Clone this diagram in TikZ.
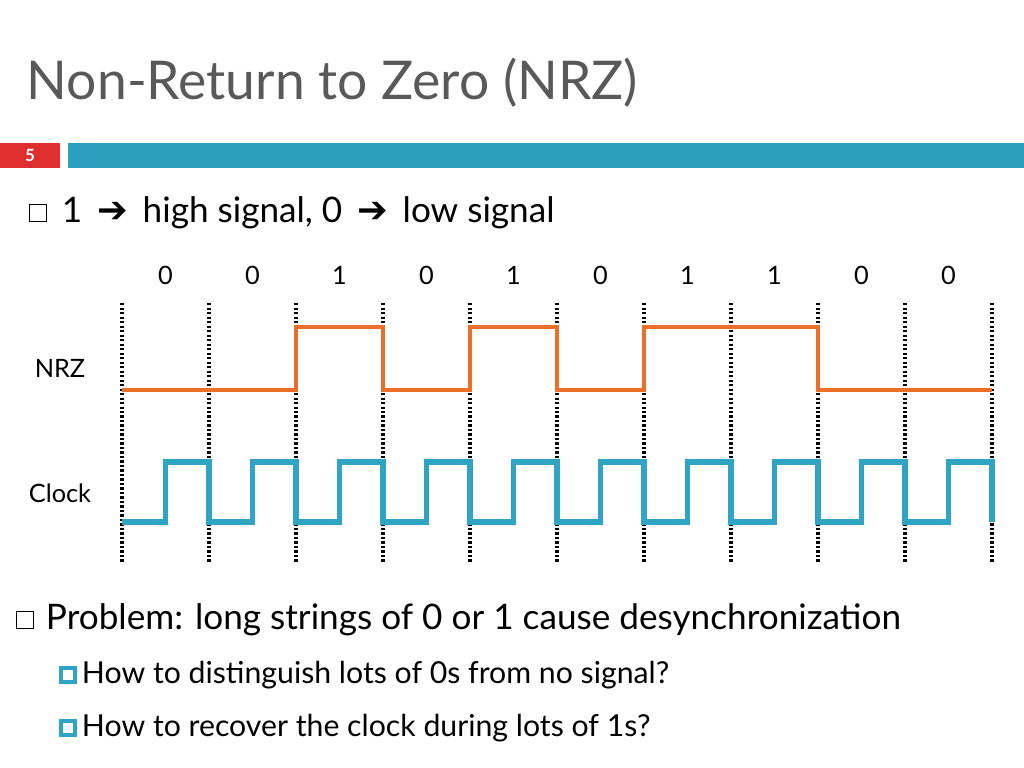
\documentclass[tikz,border=0pt]{standalone}
\usepackage{fontspec}
\setmainfont{Lato}
\newfontfamily\symfont{DejaVu Sans}
\definecolor{nrzorange}{RGB}{237,110,40}
\definecolor{clkblue}{RGB}{48,165,195}
\definecolor{barblue}{RGB}{41,160,190}
\definecolor{numred}{RGB}{222,46,46}
\definecolor{titlegray}{RGB}{89,89,89}
\newcommand{\arr}{{\symfont\bfseries\fontsize{26}{28}\selectfont ➔}}
\begin{document}
\begin{tikzpicture}
      [ x = 0.025cm
      , y = -0.025cm
      , tick/.style =
        { line width = 2.2pt, dash pattern = on 1.6pt off 1.6pt }
      , nrzline/.style =
        { nrzorange, line width = 2.8pt }
      , clkline/.style =
        { clkblue, line width = 3.8pt }
      , bit/.style =
        { font = \fontsize{18}{21}\selectfont }
      , body/.style =
        { anchor = west, font = \fontsize{25}{30}\selectfont }
      , subbody/.style =
        { anchor = west, font = \fontsize{21.5}{26}\selectfont }
      , hollow/.style =
        { draw, line width = 0.7pt, minimum size = 12pt, inner sep = 0pt }
      , filled/.style =
        { draw = clkblue, line width = 3pt, fill = white, minimum size = 10pt, inner sep = 0pt }
      ]
      \useasboundingbox (0,0) rectangle (1024,768);
      % header
      \node [anchor = west, titlegray, font = \fontsize{38}{42}\selectfont] (title) at (22,83) {Non-Return to Zero (NRZ)};
      \fill [numred] (0,143) rectangle (60,168);
      \node [white, font = \bfseries\fontsize{12}{14}\selectfont] (page) at (30,155.5) {5};
      \fill [barblue] (68,143) rectangle (1024,168);
      % first bullet
      \node [hollow] (b1) at (38,213) {};
      \node [body] (t1) at (57,213) {1 \,\arr\, high signal, 0 \,\arr\, low signal};
      % dotted ticks and bits
      \foreach \i in {0,...,10}
        \draw [tick] (122+87*\i,303) -- (122+87*\i,562);
      \foreach \b [count = \i from 0] in {0,0,1,0,1,0,1,1,0,0}
        \node [bit] (bit\i) at (165.5+87*\i,275) {\b};
      \node [bit] (nrzlabel) at (60,368) {NRZ};
      \node [bit] (clklabel) at (60,493) {Clock};
      % NRZ waveform
      \draw [nrzline, line join = miter] (122,390) -- (296,390) -- (296,327) -- (383,327)
        -- (383,390) -- (470,390) -- (470,327) -- (557,327) -- (557,390) -- (644,390)
        -- (644,327) -- (818,327) -- (818,390) -- (992,390);
      % clock waveform
      \draw [clkline, line join = miter] (122,522)
        \foreach \i in {0,...,9} { -- (165.5+87*\i,522) -- (165.5+87*\i,462) -- (209+87*\i,462) -- (209+87*\i,522) };
      % second bullet
      \node [hollow] (b2) at (25,620) {};
      \node [body] (t2) at (41,620) {Problem: long strings of 0 or 1 cause desynchronization};
      \node [filled] (s1) at (68,675) {};
      \node [subbody] (t3) at (77,675) {How to distinguish lots of 0s from no signal?};
      \node [filled] (s2) at (68,728) {};
      \node [subbody] (t4) at (77,728) {How to recover the clock during lots of 1s?};
    \end{tikzpicture}
\end{document}
